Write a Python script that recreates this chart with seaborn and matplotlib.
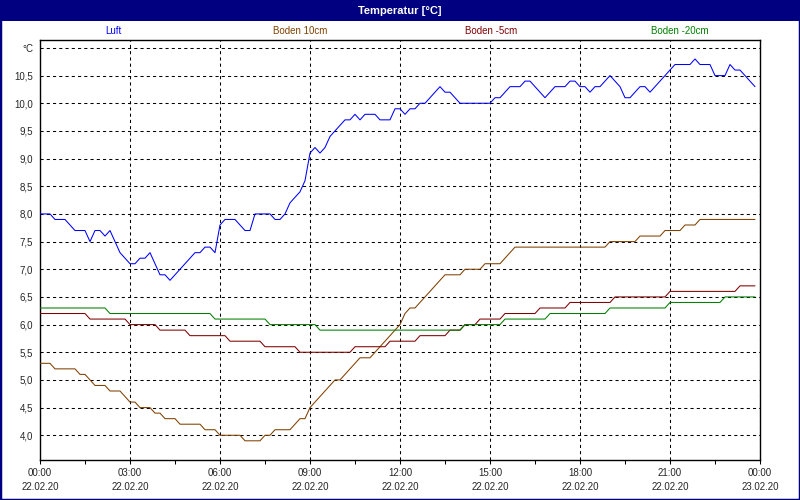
import pandas as pd
import matplotlib
matplotlib.use("Agg")
import matplotlib.pyplot as plt
import matplotlib.dates as mdates
from matplotlib.patches import Rectangle
import seaborn as sns

sns.set_style("white")
plt.rcParams["font.family"] = ["Liberation Sans", "DejaVu Sans"]

# 10-minute readings, 22.02.20 00:00 .. 23:50
luft = [
    8.0, 8.0, 8.0, 7.9, 7.9, 7.9, 7.8, 7.7, 7.7, 7.7, 7.5, 7.7,
    7.7, 7.6, 7.7, 7.5, 7.3, 7.2, 7.1, 7.1, 7.2, 7.2, 7.3, 7.1,
    6.9, 6.9, 6.8, 6.9, 7.0, 7.1, 7.2, 7.3, 7.3, 7.4, 7.4, 7.3,
    7.8, 7.9, 7.9, 7.9, 7.8, 7.7, 7.7, 8.0, 8.0, 8.0, 8.0, 7.9,
    7.9, 8.0, 8.2, 8.3, 8.4, 8.6, 9.1, 9.2, 9.1, 9.2, 9.4, 9.5,
    9.6, 9.7, 9.7, 9.8, 9.7, 9.8, 9.8, 9.8, 9.7, 9.7, 9.7, 9.9,
    9.9, 9.8, 9.9, 9.9, 10.0, 10.0, 10.1, 10.2, 10.3, 10.2, 10.2, 10.1,
    10.0, 10.0, 10.0, 10.0, 10.0, 10.0, 10.0, 10.1, 10.1, 10.2, 10.3, 10.3,
    10.3, 10.4, 10.4, 10.3, 10.2, 10.1, 10.2, 10.3, 10.3, 10.3, 10.4, 10.4,
    10.3, 10.3, 10.2, 10.3, 10.3, 10.4, 10.5, 10.4, 10.3, 10.1, 10.1, 10.2,
    10.3, 10.3, 10.2, 10.3, 10.4, 10.5, 10.6, 10.7, 10.7, 10.7, 10.7, 10.8,
    10.7, 10.7, 10.7, 10.5, 10.5, 10.5, 10.7, 10.6, 10.6, 10.5, 10.4, 10.3,
]
boden_10 = [
    5.3, 5.3, 5.3, 5.2, 5.2, 5.2, 5.2, 5.2, 5.1, 5.1, 5.0, 4.9,
    4.9, 4.9, 4.8, 4.8, 4.8, 4.7, 4.6, 4.6, 4.5, 4.5, 4.5, 4.4,
    4.4, 4.3, 4.3, 4.3, 4.2, 4.2, 4.2, 4.2, 4.2, 4.1, 4.1, 4.1,
    4.0, 4.0, 4.0, 4.0, 4.0, 3.9, 3.9, 3.9, 3.9, 4.0, 4.0, 4.1,
    4.1, 4.1, 4.1, 4.2, 4.3, 4.3, 4.5, 4.6, 4.7, 4.8, 4.9, 5.0,
    5.0, 5.1, 5.2, 5.3, 5.4, 5.4, 5.4, 5.5, 5.6, 5.7, 5.8, 5.9,
    6.0, 6.2, 6.3, 6.3, 6.4, 6.5, 6.6, 6.7, 6.8, 6.9, 6.9, 6.9,
    6.9, 7.0, 7.0, 7.0, 7.0, 7.1, 7.1, 7.1, 7.1, 7.2, 7.3, 7.4,
    7.4, 7.4, 7.4, 7.4, 7.4, 7.4, 7.4, 7.4, 7.4, 7.4, 7.4, 7.4,
    7.4, 7.4, 7.4, 7.4, 7.4, 7.4, 7.5, 7.5, 7.5, 7.5, 7.5, 7.5,
    7.6, 7.6, 7.6, 7.6, 7.6, 7.7, 7.7, 7.7, 7.7, 7.8, 7.8, 7.8,
    7.9, 7.9, 7.9, 7.9, 7.9, 7.9, 7.9, 7.9, 7.9, 7.9, 7.9, 7.9,
]
boden_5 = [
    6.2, 6.2, 6.2, 6.2, 6.2, 6.2, 6.2, 6.2, 6.2, 6.2, 6.1, 6.1,
    6.1, 6.1, 6.1, 6.1, 6.1, 6.1, 6.0, 6.0, 6.0, 6.0, 6.0, 6.0,
    5.9, 5.9, 5.9, 5.9, 5.9, 5.9, 5.8, 5.8, 5.8, 5.8, 5.8, 5.8,
    5.8, 5.8, 5.7, 5.7, 5.7, 5.7, 5.7, 5.7, 5.7, 5.6, 5.6, 5.6,
    5.6, 5.6, 5.6, 5.6, 5.5, 5.5, 5.5, 5.5, 5.5, 5.5, 5.5, 5.5,
    5.5, 5.5, 5.5, 5.6, 5.6, 5.6, 5.6, 5.6, 5.6, 5.6, 5.7, 5.7,
    5.7, 5.7, 5.7, 5.7, 5.8, 5.8, 5.8, 5.8, 5.8, 5.8, 5.9, 5.9,
    5.9, 6.0, 6.0, 6.0, 6.1, 6.1, 6.1, 6.1, 6.1, 6.2, 6.2, 6.2,
    6.2, 6.2, 6.2, 6.2, 6.3, 6.3, 6.3, 6.3, 6.3, 6.3, 6.4, 6.4,
    6.4, 6.4, 6.4, 6.4, 6.4, 6.4, 6.4, 6.5, 6.5, 6.5, 6.5, 6.5,
    6.5, 6.5, 6.5, 6.5, 6.5, 6.5, 6.6, 6.6, 6.6, 6.6, 6.6, 6.6,
    6.6, 6.6, 6.6, 6.6, 6.6, 6.6, 6.6, 6.6, 6.7, 6.7, 6.7, 6.7,
]
boden_20 = [
    6.3, 6.3, 6.3, 6.3, 6.3, 6.3, 6.3, 6.3, 6.3, 6.3, 6.3, 6.3,
    6.3, 6.3, 6.2, 6.2, 6.2, 6.2, 6.2, 6.2, 6.2, 6.2, 6.2, 6.2,
    6.2, 6.2, 6.2, 6.2, 6.2, 6.2, 6.2, 6.2, 6.2, 6.2, 6.2, 6.1,
    6.1, 6.1, 6.1, 6.1, 6.1, 6.1, 6.1, 6.1, 6.1, 6.1, 6.0, 6.0,
    6.0, 6.0, 6.0, 6.0, 6.0, 6.0, 6.0, 6.0, 5.9, 5.9, 5.9, 5.9,
    5.9, 5.9, 5.9, 5.9, 5.9, 5.9, 5.9, 5.9, 5.9, 5.9, 5.9, 5.9,
    5.9, 5.9, 5.9, 5.9, 5.9, 5.9, 5.9, 5.9, 5.9, 5.9, 5.9, 5.9,
    5.9, 6.0, 6.0, 6.0, 6.0, 6.0, 6.0, 6.0, 6.0, 6.1, 6.1, 6.1,
    6.1, 6.1, 6.1, 6.1, 6.1, 6.1, 6.2, 6.2, 6.2, 6.2, 6.2, 6.2,
    6.2, 6.2, 6.2, 6.2, 6.2, 6.2, 6.3, 6.3, 6.3, 6.3, 6.3, 6.3,
    6.3, 6.3, 6.3, 6.3, 6.3, 6.3, 6.4, 6.4, 6.4, 6.4, 6.4, 6.4,
    6.4, 6.4, 6.4, 6.4, 6.4, 6.5, 6.5, 6.5, 6.5, 6.5, 6.5, 6.5,
]

series_names = ["Luft", "Boden 10cm", "Boden -5cm", "Boden -20cm"]
series_colors = ["#0000ff", "#804000", "#800000", "#008000"]
y_ticks = [4.0, 4.5, 5.0, 5.5, 6.0, 6.5, 7.0, 7.5, 8.0, 8.5, 9.0, 9.5, 10.0, 10.5, 11.0]
y_labels = ["4,0", "4,5", "5,0", "5,5", "6,0", "6,5", "7,0", "7,5", "8,0", "8,5",
            "9,0", "9,5", "10,0", "10,5", "°C"]

times = pd.date_range("2020-02-22 00:00", periods=len(luft), freq="10min")
start = pd.Timestamp("2020-02-22 00:00")
end = pd.Timestamp("2020-02-23 00:00")

df = pd.concat([
    pd.DataFrame({"Zeit": times, "Temp": vals, "Serie": name})
    for name, vals in zip(series_names, [luft, boden_10, boden_5, boden_20])
])

navy = "#000080"
fig = plt.figure(figsize=(8, 5), dpi=100, facecolor="white")
ax = fig.add_axes([0.05, 0.08, 0.9, 0.84])

sns.lineplot(data=df, x="Zeit", y="Temp", hue="Serie", hue_order=series_names,
             palette=dict(zip(series_names, series_colors)), linewidth=0.75,
             legend=False, ax=ax, zorder=3)

ax.set_xlim(start, end)
ax.set_ylim(3.553, 11.143)
ax.set_xlabel("")
ax.set_ylabel("")

ax.set_xticks(pd.date_range(start, end, freq="3h"))
ax.set_xticks(pd.date_range(start + pd.Timedelta("90min"), end, freq="3h"), minor=True)
ax.xaxis.set_major_formatter(mdates.DateFormatter("%H:%M\n%d.%m.%y"))
ax.set_yticks(y_ticks)
ax.set_yticklabels(y_labels)

ax.grid(True, which="major", color="black", linestyle=(0, (3, 3)), linewidth=0.75)
ax.tick_params(axis="x", which="both", direction="out", length=3, width=0.75,
               color="black", labelsize=7, pad=3, bottom=True)
ax.tick_params(axis="y", length=0, labelsize=7, pad=5)
for s in ax.spines.values():
    s.set_visible(True)
    s.set_color("black")
    s.set_linewidth(1.0)

fig.canvas.draw()
for lab in ax.get_xticklabels():
    lab.set_linespacing(1.45)

# title bar and frame
fig.patches.append(Rectangle((0, 1 - 21 / 500), 1, 21 / 500, transform=fig.transFigure,
                             facecolor=navy, edgecolor="none", zorder=0))
fig.patches.append(Rectangle((0, 0), 1, 1, transform=fig.transFigure,
                             facecolor="none", edgecolor=navy, linewidth=2.5, zorder=5))
fig.text(0.5, 1 - 10.5 / 500, "Temperatur [°C]", color="white", fontsize=8,
         fontweight="bold", ha="center", va="center")

legend_x = [113, 300, 491, 680]
for name, col, xpix in zip(series_names, series_colors, legend_x):
    fig.text(xpix / 800, 1 - 30.5 / 500, name, color=col, fontsize=7,
             ha="center", va="center")

fig.savefig("out.png", dpi=100, facecolor="white")
